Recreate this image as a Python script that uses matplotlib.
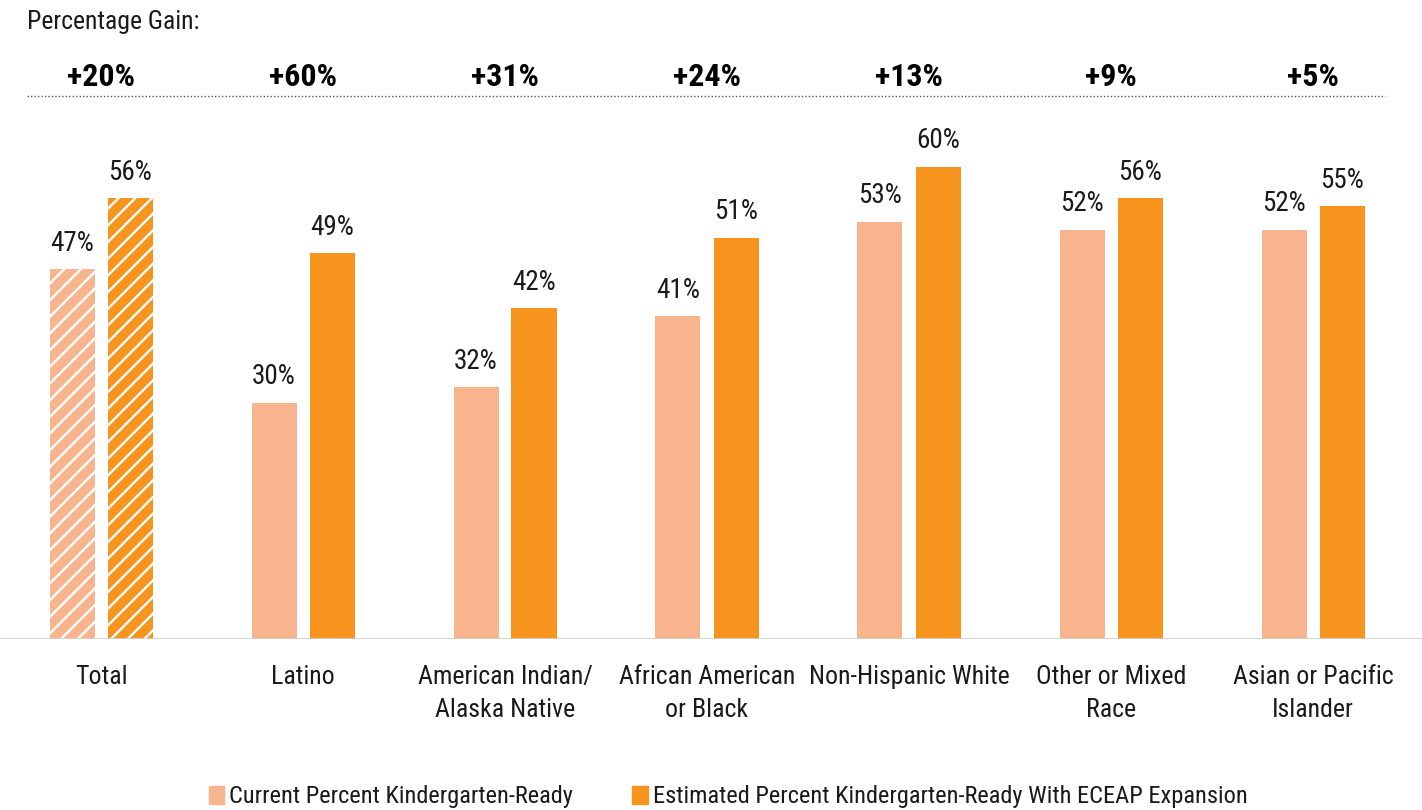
import matplotlib
matplotlib.use("Agg")
import matplotlib.pyplot as plt
import numpy as np
from matplotlib.patches import Patch

### data:
categories = ['Total', 'Latino', 'American Indian/\nAlaska Native', 'African American\nor Black',
              'Non-Hispanic White', 'Other or Mixed\nRace', 'Asian or Pacific\nIslander']
current = [47, 30, 32, 41, 53, 52, 52]
estimated = [56, 49, 42, 51, 60, 56, 55]
gains = ['+20%', '+60%', '+31%', '+24%', '+13%', '+9%', '+5%']

legend_labels = ['Current Percent Kindergarten-Ready',
                 'Estimated Percent Kindergarten-Ready With ECEAP Expansion']

light = '#F7B48D'
dark = '#F7941D'
txt = '#1a1a1a'

plt.rcParams['font.family'] = ['Roboto Condensed', 'DejaVu Sans']
plt.rcParams['hatch.linewidth'] = 1.7

fig = plt.figure(figsize=(14.22, 8.10), dpi=100)
# axes: from baseline (y=639px) up to dotted line (y=96px), full width
ax = fig.add_axes([0, (810 - 639) / 810, 1, (639 - 96) / 810])

x = np.arange(len(categories))
w = 45 / 202
off = 29 / 202

for i in range(len(categories)):
    if i == 0:
        # total is drawn striped
        ax.bar(x[i] - off, current[i], w, color=light, edgecolor='white', hatch='//', linewidth=0)
        ax.bar(x[i] + off, estimated[i], w, color=dark, edgecolor='white', hatch='//', linewidth=0)
    else:
        ax.bar(x[i] - off, current[i], w, color=light, linewidth=0)
        ax.bar(x[i] + off, estimated[i], w, color=dark, linewidth=0)
    ax.text(x[i] - off, current[i] + 3.3, f'{current[i]}%', ha='center', va='center', fontsize=19.5, color=txt)
    ax.text(x[i] + off, estimated[i] + 3.3, f'{estimated[i]}%', ha='center', va='center', fontsize=19.5, color=txt)
    ax.text(x[i], 71.4, gains[i], ha='center', va='center', fontsize=23, fontweight='bold', color='black',
            clip_on=False)

ax.set_xlim(-0.5, (1422 - 101) / 202)
ax.set_ylim(0, 69)

# dotted line under the gain labels
ax.plot([-0.366, 6.356], [69, 69], ls=(0, (1, 1.5)), lw=1.0, color='#555555', clip_on=False)
ax.axhline(0, color='#d0d0d0', lw=2)

ax.set_xticks(x)
ax.set_xticklabels(categories, fontsize=18.6, color=txt, linespacing=1.47)
ax.tick_params(axis='x', length=0, pad=19)
ax.set_yticks([])
for s in ax.spines.values():
    s.set_visible(False)

fig.text(27 / 1422, 1 - 22 / 810, 'Percentage Gain:', fontsize=18.5, color=txt, ha='left', va='center')

handles = [Patch(color=light), Patch(color=dark)]
fig.legend(handles, legend_labels, loc='center', bbox_to_anchor=(728 / 1422, 1 - 797 / 810), ncol=2, frameon=False,
           fontsize=17.6, handlelength=0.65, handleheight=0.7, handletextpad=0.2, columnspacing=2.4,
           labelcolor=txt)

fig.savefig('out.png', dpi=100)
